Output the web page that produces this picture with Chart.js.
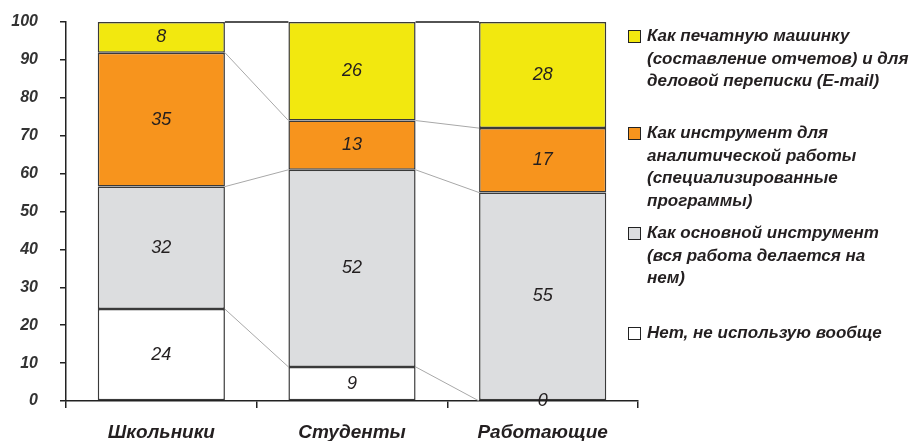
<!DOCTYPE html>
<html>
<head>
<meta charset="utf-8">
<script src="https://cdn.jsdelivr.net/npm/chart.js@4/dist/chart.umd.min.js"></script>
<style>
  body { margin: 0; background: #fff; }
  #wrap { position: relative; width: 922px; height: 441px; }
  #legend { position: absolute; left: 0; top: 0; width: 922px; height: 441px; pointer-events: none; }
  .legendItem {
    position: absolute; left: 628px;
    font: italic bold 17px "Liberation Sans", Arial, sans-serif;
    line-height: 22.5px; color: #231f20;
  }
  .legendBox {
    position: absolute; left: 0; top: 5px;
    width: 11px; height: 11px; border: 1px solid #222; box-sizing: content-box;
  }
  .legendText { margin-left: 19px; white-space: nowrap; }
</style>
</head>
<body>
<div id="wrap">
  <canvas id="usageChart" width="922" height="441"></canvas>
  <div id="legend"></div>
</div>
<script>
const groups = ['Школьники', 'Студенты', 'Работающие'];

// answers per group, stacked bottom to top
const notUsed = [24, 9, 0];
const mainTool = [32, 52, 55];
const analytics = [35, 13, 17];
const typewriter = [8, 26, 28];

const seriesNames = [
  ['Нет, не использую вообще'],
  ['Как основной инструмент', '(вся работа делается на', 'нем)'],
  ['Как инструмент для', 'аналитической работы', '(специализированные', 'программы)'],
  ['Как печатную машинку', '(составление отчетов) и для', 'деловой переписки (E-mail)']
];
const seriesColors = ['#ffffff', '#dcdddf', '#f7941d', '#f2e80f'];
const yTicks = [0, 10, 20, 30, 40, 50, 60, 70, 80, 90, 100];

const seriesValues = [notUsed, mainTool, analytics, typewriter];

// each bar is drawn as 100%: share of the group total
const totals = groups.map((g, j) => seriesValues.reduce((s, arr) => s + arr[j], 0));
const shares = seriesValues.map(arr => arr.map((v, j) => v / totals[j] * 100));

const datasets = seriesValues.map((arr, i) => ({
  label: seriesNames[i].join(' '),
  data: shares[i],
  rawValues: arr,
  backgroundColor: seriesColors[i],
  borderColor: '#3a3a3a',
  borderWidth: 1.5,
  borderSkipped: false,
  categoryPercentage: 1,
  barPercentage: 0.667
}));

// thin connector lines between the tops of matching segments
const seriesLines = {
  id: 'seriesLines',
  beforeDatasetsDraw(chart) {
    const ctx = chart.ctx;
    ctx.save();
    chart.data.datasets.forEach((ds, i) => {
      const bars = chart.getDatasetMeta(i).data;
      const isTop = i === chart.data.datasets.length - 1;
      ctx.strokeStyle = isTop ? '#1a1a1a' : '#a8a8a8';
      ctx.lineWidth = isTop ? 1.5 : 1;
      for (let j = 0; j < bars.length - 1; j++) {
        const a = bars[j], b = bars[j + 1];
        ctx.beginPath();
        ctx.moveTo(a.x + a.width / 2, a.y);
        ctx.lineTo(b.x - b.width / 2, b.y);
        ctx.stroke();
      }
    });
    ctx.restore();
  }
};

// value labels in the middle of each segment
const segmentLabels = {
  id: 'segmentLabels',
  afterDatasetsDraw(chart) {
    const ctx = chart.ctx;
    ctx.save();
    ctx.font = 'italic 18px "Liberation Sans", Arial, sans-serif';
    ctx.fillStyle = '#231f20';
    ctx.textAlign = 'center';
    ctx.textBaseline = 'middle';
    chart.data.datasets.forEach((ds, i) => {
      chart.getDatasetMeta(i).data.forEach((bar, j) => {
        const yMid = (bar.y + bar.base) / 2;
        ctx.fillText(String(ds.rawValues[j]), bar.x, yMid);
      });
    });
    ctx.restore();
  }
};

function buildLegend() {
  const box = document.getElementById('legend');
  const tops = [322, 222, 122, 25];
  seriesNames.forEach((lines, i) => {
    const item = document.createElement('div');
    item.className = 'legendItem';
    item.style.top = tops[i] + 'px';
    item.innerHTML = `<span class="legendBox" style="background:${seriesColors[i]}"></span>` +
      `<div class="legendText">${lines.join('<br>')}</div>`;
    box.appendChild(item);
  });
}

// fixed axis sizes, no extra room for edge labels
function fixSize(prop, size) {
  return scale => {
    scale[prop] = size;
    scale.paddingTop = 0;
    scale.paddingBottom = 0;
    scale.paddingLeft = 0;
    scale.paddingRight = 0;
  };
}

const ctx = document.getElementById('usageChart').getContext('2d');
new Chart(ctx, {
  type: 'bar',
  data: { labels: groups, datasets: datasets },
  options: {
    responsive: false,
    animation: false,
    layout: { autoPadding: false, padding: { left: 10, right: 284, top: 22, bottom: 0 } },
    plugins: {
      legend: { display: false },
      title: { display: false },
      tooltip: { enabled: false }
    },
    scales: {
      x: {
        stacked: true,
        afterFit: fixSize('height', 40),
        grid: { offset: true, drawOnChartArea: false, drawTicks: true, tickLength: 7, color: '#222', lineWidth: 1.5 },
        border: { color: '#222', width: 1.5 },
        ticks: {
          color: '#231f20',
          padding: 13,
          font: { family: '"Liberation Sans", Arial, sans-serif', size: 19, style: 'italic', weight: 'bold' }
        }
      },
      y: {
        stacked: true,
        min: 0,
        max: 100,
        afterFit: fixSize('width', 56),
        afterBuildTicks(axis) {
          axis.ticks = yTicks.map(v => ({ value: v }));
        },
        grid: { drawOnChartArea: false, drawTicks: true, tickLength: 6, color: '#222', lineWidth: 1.5 },
        border: { color: '#222', width: 1.5 },
        ticks: {
          color: '#333',
          padding: 22,
          font: { family: '"Liberation Sans", Arial, sans-serif', size: 16, style: 'italic', weight: 'bold' }
        }
      }
    }
  },
  plugins: [seriesLines, segmentLabels]
});

buildLegend();
</script>
</body>
</html>
